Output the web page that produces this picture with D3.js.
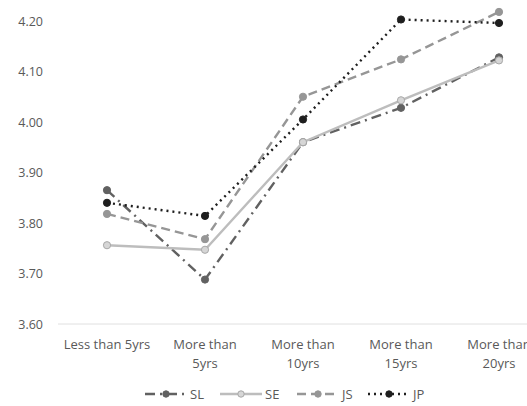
<!DOCTYPE html>
<html>
<head>
<meta charset="utf-8">
<script src="https://cdn.jsdelivr.net/npm/d3@7"></script>
<style>
  body { margin: 0; background: #fff; }
  text { font-family: "Open Sans", "Liberation Sans", sans-serif; fill: #595959; }
</style>
</head>
<body>
<div id="chart"></div>
<script>
// values
var categories = ["Less than 5yrs", "More than 5yrs", "More than 10yrs", "More than 15yrs", "More than 20yrs"];
var catLines = [["Less than 5yrs"], ["More than", "5yrs"], ["More than", "10yrs"], ["More than", "15yrs"], ["More than", "20yrs"]];
var SL = [3.865, 3.688, 3.96, 4.028, 4.128];
var SE = [3.756, 3.747, 3.96, 4.043, 4.122];
var JS = [3.818, 3.768, 4.05, 4.124, 4.218];
var JP = [3.84, 3.814, 4.005, 4.203, 4.196];
var yTicks = [3.6, 3.7, 3.8, 3.9, 4.0, 4.1, 4.2];

var series = [
  { name: "SL", values: SL, color: "#616161", dash: "10,5,2,5", mfill: "#616161", mstroke: "#616161" },
  { name: "SE", values: SE, color: "#bdbdbd", dash: null, mfill: "#d6d6d6", mstroke: "#a8a8a8" },
  { name: "JS", values: JS, color: "#969696", dash: "9,5", mfill: "#969696", mstroke: "#969696" },
  { name: "JP", values: JP, color: "#1e1e1e", dash: "2,4", mfill: "#1e1e1e", mstroke: "#1e1e1e" }
];

var width = 527, height = 406;

var svg = d3.select("#chart").append("svg")
  .attr("width", width)
  .attr("height", height);

var x = d3.scalePoint()
  .domain(categories)
  .range([58, 548])
  .padding(0.5);

var y = d3.scaleLinear()
  .domain([3.6, 4.2])
  .range([324, 21]);

// y labels (no axis line)
var yAxis = d3.axisLeft(y).tickValues(yTicks).tickFormat(d3.format(".2f")).tickSize(0).tickPadding(0);
var yg = svg.append("g").attr("transform", "translate(43,0)").call(yAxis);
yg.select(".domain").remove();
yg.selectAll("text").style("font-size", "12.5px").style("fill", "#595959")
  .style("font-family", '"Open Sans", sans-serif');

// bottom baseline
svg.append("line")
  .attr("x1", 58).attr("x2", width)
  .attr("y1", y(3.6)).attr("y2", y(3.6))
  .attr("stroke", "#e0e0e0").attr("stroke-width", 1);

// category labels
var cg = svg.append("g");
categories.forEach(function(c, i) {
  var t = cg.append("text")
    .attr("x", x(c))
    .attr("y", 349)
    .attr("text-anchor", "middle")
    .style("font-size", "13px");
  catLines[i].forEach(function(l, j) {
    t.append("tspan").attr("x", x(c)).attr("dy", j === 0 ? 0 : 19).text(l);
  });
});

var line = d3.line()
  .x(function(d, i) { return x(categories[i]); })
  .y(function(d) { return y(d); });

series.forEach(function(s) {
  svg.append("path")
    .datum(s.values)
    .attr("d", line)
    .attr("fill", "none")
    .attr("stroke", s.color)
    .attr("stroke-width", 2.4)
    .attr("stroke-dasharray", s.dash);
  svg.selectAll(null)
    .data(s.values)
    .enter().append("circle")
    .attr("cx", function(d, i) { return x(categories[i]); })
    .attr("cy", function(d) { return y(d); })
    .attr("r", 3.6)
    .attr("fill", s.mfill)
    .attr("stroke", s.mstroke)
    .attr("stroke-width", 1);
});

// legend
var legendX = [145, 220, 297, 368];
var legend = svg.append("g").attr("transform", "translate(0,394)");
series.forEach(function(s, i) {
  var g = legend.append("g").attr("transform", "translate(" + legendX[i] + ",0)");
  g.append("line")
    .attr("x1", 0).attr("x2", 42).attr("y1", 0).attr("y2", 0)
    .attr("stroke", s.color).attr("stroke-width", 2.4)
    .attr("stroke-dasharray", s.dash);
  g.append("circle").attr("cx", 21).attr("cy", 0).attr("r", 3.2)
    .attr("fill", s.mfill).attr("stroke", s.mstroke);
  g.append("text").attr("x", 45).attr("y", 4.5)
    .style("font-size", "13px").text(s.name);
});
</script>
</body>
</html>
